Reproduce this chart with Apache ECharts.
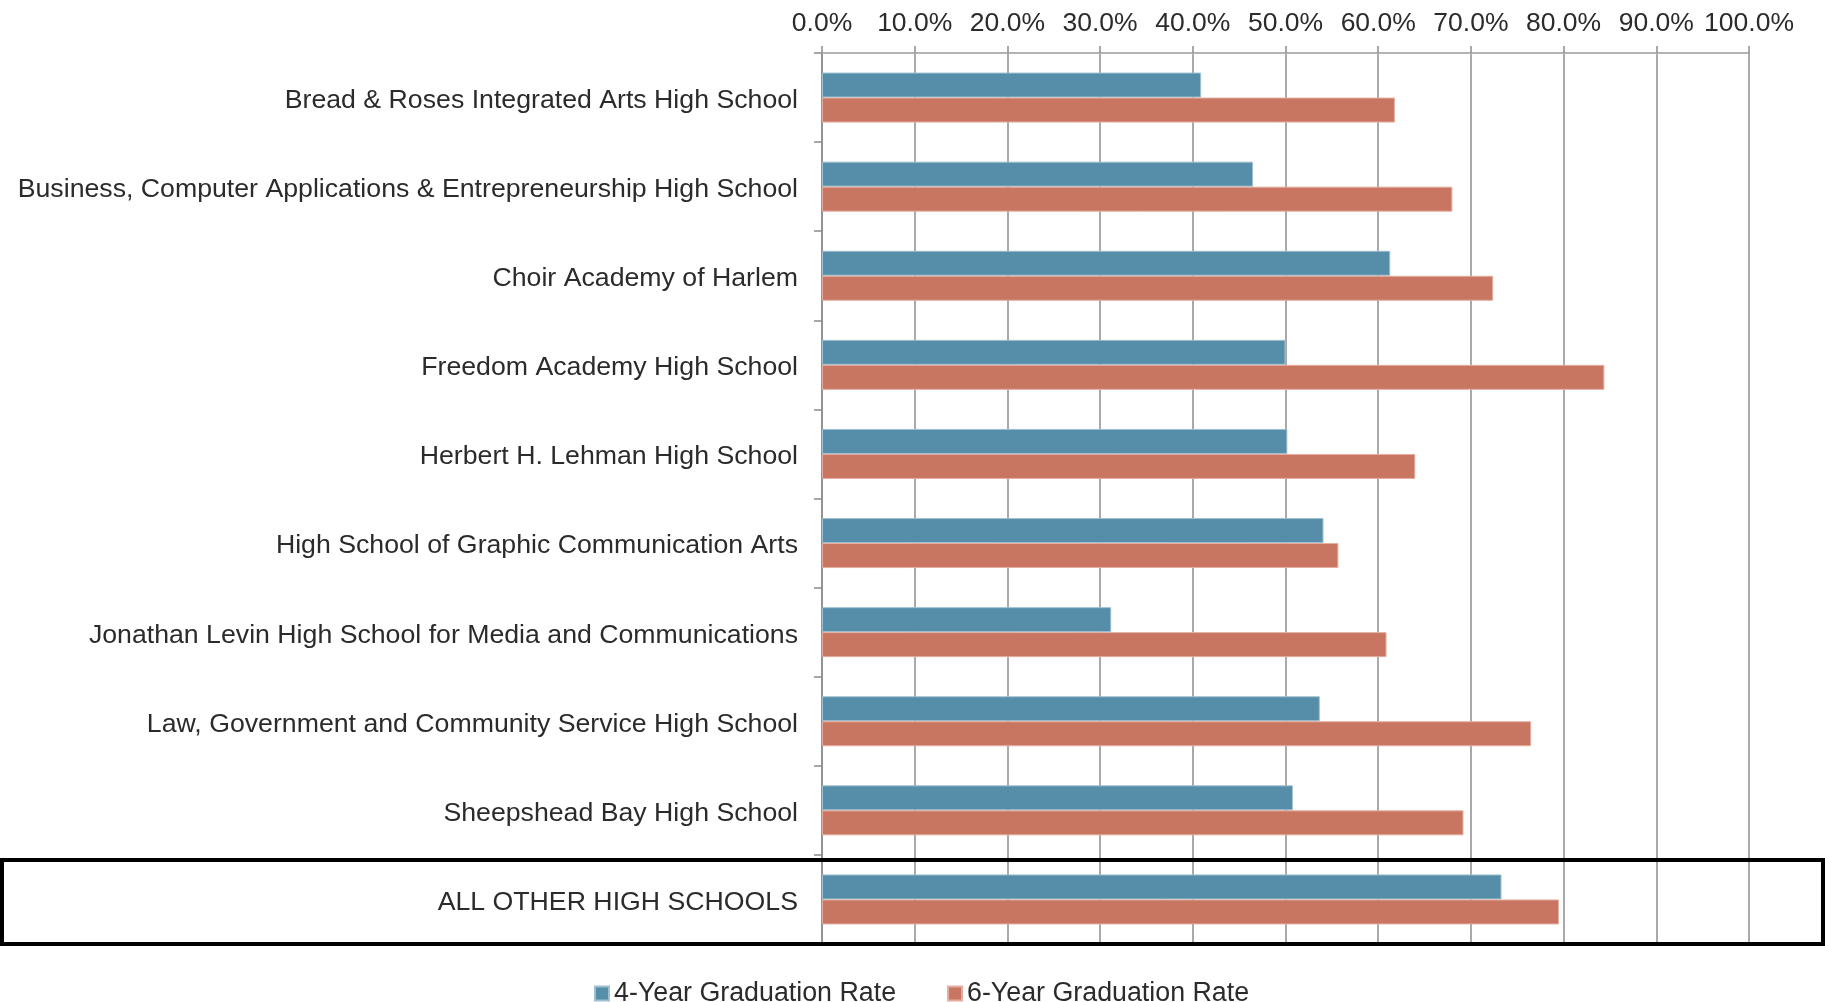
<!DOCTYPE html>
<html>
<head>
<meta charset="utf-8">
<script src="https://cdn.jsdelivr.net/npm/echarts@6/dist/echarts.min.js"></script>
<style>
  html, body { margin: 0; padding: 0; background: #fff; }
  #main { width: 1825px; height: 1002px; }
</style>
</head>
<body>
<div id="main"></div>
<script>
const schools = [
  "Bread & Roses Integrated Arts High School",
  "Business, Computer Applications & Entrepreneurship High School",
  "Choir Academy of Harlem",
  "Freedom Academy High School",
  "Herbert H. Lehman High School",
  "High School of Graphic Communication Arts",
  "Jonathan Levin High School for Media and Communications",
  "Law, Government and Community Service High School",
  "Sheepshead Bay High School",
  "ALL OTHER HIGH SCHOOLS"
];
const rate4 = [40.9, 46.5, 61.3, 50.0, 50.2, 54.1, 31.2, 53.7, 50.8, 73.3];
const rate6 = [61.8, 68.0, 72.4, 84.4, 64.0, 55.7, 60.9, 76.5, 69.2, 79.5];
const seriesNames = ["4-Year Graduation Rate", "6-Year Graduation Rate"];

const font = "'Liberation Sans', Arial, sans-serif";
const textColor = "#2b2b2b";

const myChart = echarts.init(document.getElementById("main"));

const option = {
  animation: false,
  color: ["#568ea9", "#c87661"],
  grid: {
    left: 822,
    right: 76,
    top: 53,
    bottom: 58,
    containLabel: false,
    outerBoundsMode: "none"
  },
  legend: {
    data: seriesNames,
    top: 975,
    left: 589,
    icon: "rect",
    itemWidth: 14,
    itemHeight: 14,
    itemGap: 51,
    textStyle: { fontFamily: font, fontSize: 26.8, color: textColor }
  },
  xAxis: {
    type: "value",
    position: "top",
    min: 0,
    max: 100,
    interval: 10,
    axisLine: { show: true, lineStyle: { color: "#b3b3b3", width: 2 } },
    axisTick: { show: true, length: 7, lineStyle: { color: "#8c8c8c", width: 1.5 } },
    splitLine: { show: true, lineStyle: { color: "#8c8c8c", width: 1.5 } },
    axisLabel: {
      margin: 16,
      fontFamily: font,
      fontSize: 26.5,
      color: textColor,
      formatter: (v) => v.toFixed(1) + "%"
    }
  },
  yAxis: {
    type: "category",
    inverse: true,
    data: schools,
    axisLine: { show: true, lineStyle: { color: "#8c8c8c", width: 1.5 } },
    axisTick: { show: true, length: 8, lineStyle: { color: "#8c8c8c", width: 1.5 } },
    axisLabel: {
      margin: 24,
      formatter: (name) => "{s|" + name + "}",
      rich: {
        s: {
          fontFamily: font,
          fontSize: 26.7,
          color: textColor,
          padding: [6, 0, 0, 0]
        }
      }
    }
  },
  series: [
    {
      name: seriesNames[0],
      type: "bar",
      data: rate4,
      barWidth: 25,
      barGap: "0%",
      itemStyle: { borderColor: "#9fc0d0", borderWidth: 1 }
    },
    {
      name: seriesNames[1],
      type: "bar",
      data: rate6,
      barWidth: 25,
      barGap: "0%",
      itemStyle: { borderColor: "#e4ad9f", borderWidth: 1 }
    }
  ],
  graphic: [
    {
      type: "rect",
      shape: { x: 2, y: 860, width: 1821, height: 84 },
      style: { fill: null, stroke: "#000", lineWidth: 4 },
      z: 100
    }
  ]
};

myChart.setOption(option);
</script>
</body>
</html>
